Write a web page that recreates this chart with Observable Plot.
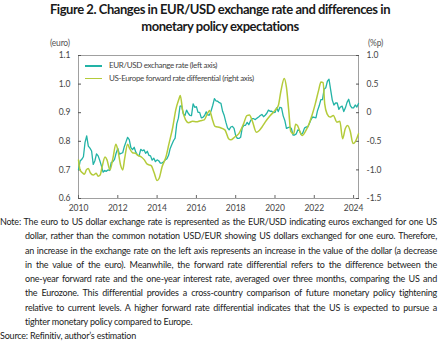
<!DOCTYPE html>
<html><head><meta charset="utf-8">
<script src="https://cdn.jsdelivr.net/npm/d3@7"></script>
<script src="https://cdn.jsdelivr.net/npm/@observablehq/plot@0.6"></script>
<style>
body{margin:0;background:#fff;width:440px;height:341px;overflow:hidden;font-family:Lato,"Noto Sans",sans-serif;}
#wrap{position:relative;width:440px;height:341px;}
#title{position:absolute;top:1px;left:0;width:440px;text-align:center;font-weight:bold;font-size:13px;line-height:16.5px;color:#1a1a1a;letter-spacing:-0.45px}
#chart{position:absolute;top:34px;left:0}
.alab{position:absolute;font-size:8.5px;color:#555;letter-spacing:-0.2px}
#legend{position:absolute;left:85px;top:59px;font-size:8px;line-height:12.7px;color:#444;letter-spacing:-0.35px}
.sw{display:inline-block;width:17px;height:1.6px;margin-right:7px;vertical-align:middle}
#notes{position:absolute;top:215px;left:0;width:437px;font-size:9px;line-height:14.3px;color:#222;letter-spacing:-0.2px}
.nl{white-space:nowrap;text-align:justify;text-align-last:justify;padding-left:25px}
.nl.first{padding-left:0}
.nl.last{text-align-last:left}
</style></head>
<body><div id="wrap">
<div id="title">Figure 2. Changes in EUR/USD exchange rate and differences in<br>monetary policy expectations</div>
<div id="chart"></div>
<div class="alab" style="left:50px;top:38px">(euro)</div>
<div class="alab" style="left:368px;top:38px">(%p)</div>
<div id="legend"></div>
<div id="notes"></div>
</div>
<script>
// EUR/USD (euros per US dollar), monthly from Jan 2010 to Apr 2024
const fxStartYear = 2010;
const fxValues = [
 0.701,0.731,0.737,0.746,0.796,0.819,0.783,0.776,0.766,0.719,0.732,0.756,
 0.749,0.733,0.714,0.692,0.698,0.695,0.700,0.698,0.726,0.729,0.737,0.759,
 0.775,0.755,0.758,0.760,0.782,0.798,0.814,0.806,0.778,0.771,0.779,0.762,
 0.752,0.749,0.772,0.767,0.770,0.758,0.765,0.751,0.749,0.734,0.741,0.729,
 0.735,0.732,0.724,0.724,0.728,0.735,0.739,0.751,0.775,0.789,0.802,0.811,
 0.861,0.881,0.923,0.924,0.896,0.890,0.909,0.898,0.891,0.890,0.931,0.919,
 0.921,0.901,0.901,0.882,0.884,0.890,0.903,0.892,0.892,0.907,0.926,0.949,
 0.941,0.940,0.935,0.933,0.905,0.890,0.867,0.847,0.840,0.850,0.852,0.845,
 0.820,0.810,0.810,0.814,0.847,0.856,0.856,0.866,0.858,0.871,0.879,0.879,
 0.876,0.881,0.885,0.890,0.894,0.886,0.891,0.898,0.909,0.905,0.905,0.900,
 0.901,0.917,0.904,0.919,0.917,0.889,0.873,0.845,0.848,0.850,0.845,0.822,
 0.822,0.826,0.840,0.837,0.823,0.830,0.846,0.850,0.850,0.862,0.876,0.885,
 0.884,0.882,0.908,0.924,0.946,0.946,0.982,0.987,1.010,1.017,0.980,0.944,
 0.927,0.934,0.934,0.912,0.920,0.923,0.904,0.917,0.936,0.947,0.925,0.917,
 0.917,0.927,0.920,0.932
];
// US-Europe forward rate differential (%p)
const fwdDates = [
 2010.0,2010.08,2010.2,2010.3,2010.4,2010.5,2010.6,2010.75,2010.9,2011.0,
 2011.1,2011.2,2011.35,2011.45,2011.6,2011.75,2011.9,2012.0,2012.15,2012.25,
 2012.35,2012.5,2012.6,2012.75,2012.9,2013.0,2013.2,2013.35,2013.5,2013.7,
 2013.85,2014.0,2014.1,2014.25,2014.45,2014.6,2014.8,2014.95,2015.1,2015.18,
 2015.3,2015.45,2015.6,2015.8,2016.0,2016.2,2016.4,2016.55,2016.67,2016.8,
 2016.95,2017.2,2017.45,2017.64,2017.75,2017.95,2018.15,2018.4,2018.57,2018.7,
 2018.85,2019.05,2019.2,2019.34,2019.5,2019.76,2020.0,2020.17,2020.3,2020.47,
 2020.58,2020.7,2020.8,2020.95,2021.05,2021.15,2021.29,2021.4,2021.55,2021.7,
 2021.88,2022.05,2022.22,2022.34,2022.45,2022.53,2022.65,2022.8,2022.97,2023.15,
 2023.3,2023.44,2023.58,2023.7,2023.83,2023.97,2024.1,2024.25
];
const fwdValues = [
 -0.825,-1.0,-1.05,-1.075,-1.0,-0.975,-1.05,-1.09,-1.06,-1.11,
 -1.09,-0.95,-0.775,-0.825,-1.0,-0.8,-0.55,-0.65,-0.925,-1.0,
 -0.8,-0.55,-0.625,-0.7,-0.71,-0.74,-0.775,-0.825,-0.9,-0.925,
 -1.05,-1.185,-1.15,-0.95,-0.775,-0.55,-0.25,0.05,0.225,0.3,
 0.04,-0.125,-0.175,-0.15,-0.16,-0.14,-0.125,-0.025,0.04,-0.1,
 -0.24,-0.26,-0.3,-0.455,-0.475,-0.425,-0.37,-0.195,-0.05,-0.04,
 -0.15,-0.34,-0.31,-0.25,-0.165,-0.05,0.04,0.125,0.375,0.6,
 0.45,0.04,-0.325,-0.37,-0.2,-0.225,-0.35,-0.4,-0.325,-0.225,
 -0.05,0.155,0.39,0.535,0.525,0.155,-0.02,-0.075,-0.05,-0.165,
 -0.15,-0.455,-0.275,-0.225,-0.325,-0.54,-0.5,-0.37
];
const xTicks = [2010,2012,2014,2016,2018,2020,2022,2024];
const leftTicks = [0.6,0.7,0.8,0.9,1.0,1.1];
const rightTicks = [-1.5,-1.0,-0.5,0,0.5,1.0];
const seriesNames = ["EUR/USD exchange rate (left axis)","US-Europe forward rate differential (right axis)"];
const seriesColors = ["#22b3a6","#b4cb3a"];
const noteLines = [
 "Note: The euro to US dollar exchange rate is represented as the EUR/USD indicating euros exchanged for one US",
 "dollar, rather than the common notation USD/EUR showing US dollars exchanged for one euro. Therefore,",
 "an increase in the exchange rate on the left axis represents an increase in the value of the dollar (a decrease",
 "in the value of the euro). Meanwhile, the forward rate differential refers to the difference between the",
 "one-year forward rate and the one-year interest rate, averaged over three months, comparing the US and",
 "the Eurozone. This differential provides a cross-country comparison of future monetary policy tightening",
 "relative to current levels. A higher forward rate differential indicates that the US is expected to pursue a",
 "tighter monetary policy compared to Europe."
];
const sourceLine = "Source: Refinitiv, author’s estimation";

// map right-axis (%p) values onto the left-axis scale
const toLeft = r => (r + 4.5) / 5;
const fromLeft = v => Math.round((5 * v - 4.5) * 10) / 10;

const fx = fxValues.map((v, i) => ({t: fxStartYear + i / 12, v}));
const fwd = fwdValues.map((r, i) => ({t: fwdDates[i], r}));

const chart = Plot.plot({
  width: 440, height: 180,
  marginLeft: 78, marginRight: 82, marginTop: 21, marginBottom: 16,
  x: {domain: [2010, 2024.25]},
  y: {domain: [0.6, 1.1]},
  style: {fontFamily: "Lato, sans-serif", fontSize: "8.5px", color: "#444", background: "transparent"},
  marks: [
    Plot.frame({stroke: "#a0a0a0"}),
    Plot.axisX({ticks: xTicks, tickFormat: d => String(d), tickSize: -3, tickPadding: 9, stroke: "#666", label: null}),
    Plot.axisY({ticks: leftTicks, tickFormat: d => d.toFixed(1), tickSize: -3, tickPadding: 11, stroke: "#555", label: null}),
    Plot.axisY(rightTicks.map(toLeft), {anchor: "right", tickFormat: d => { const r = fromLeft(d); return r === 0 ? "0" : r.toFixed(1); }, tickSize: -3, tickPadding: 11, stroke: "#555", label: null}),
    Plot.line(fx, {x: "t", y: "v", stroke: seriesColors[0], strokeWidth: 1.3}),
    Plot.line(fwd, {x: "t", y: d => toLeft(d.r), stroke: seriesColors[1], strokeWidth: 1.5, curve: "monotone-x"})
  ]
});
document.getElementById("chart").append(chart);

const lg = document.getElementById("legend");
seriesNames.forEach((n, i) => {
  const d = document.createElement("div");
  d.innerHTML = `<span class="sw" style="background:${seriesColors[i]}"></span>${n}`;
  lg.append(d);
});
const notes = document.getElementById("notes");
noteLines.forEach((t, i) => {
  const d = document.createElement("div");
  d.className = "nl" + (i === 0 ? " first" : "") + (i === noteLines.length - 1 ? " last" : "");
  d.textContent = t;
  notes.append(d);
});
const s = document.createElement("div");
s.className = "nl first last";
s.textContent = sourceLine;
notes.append(s);
</script>
</body></html>
